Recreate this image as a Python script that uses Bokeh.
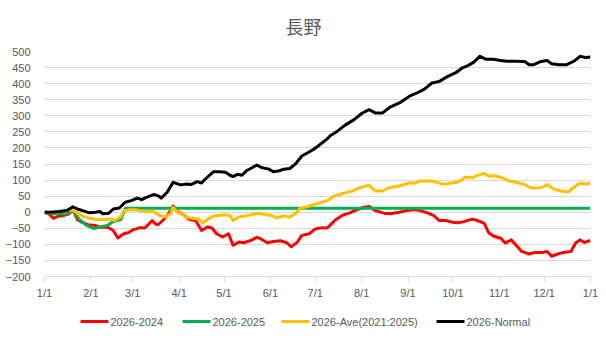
from bokeh.plotting import figure
from bokeh.layouts import column
from bokeh.models import FixedTicker
from bokeh.core.properties import value
from bokeh.embed import file_html
from bokeh.resources import INLINE

title_text = "長野"
series_names = ["2026-2024", "2026-2025", "2026-Ave(2021:2025)", "2026-Normal"]
series_colors = ["#FF0000", "#00B050", "#FFC000", "#000000"]

# x positions are day offsets from 2026-01-01
month_ticks = [0, 31, 59, 90, 120, 151, 181, 212, 243, 273, 304, 334, 365]
month_labels = ["1/1", "2/1", "3/1", "4/1", "5/1", "6/1", "7/1", "8/1",
                "9/1", "10/1", "11/1", "12/1", "1/1"]
y_ticks = list(range(-200, 501, 50))

red_days = [0, 3, 6, 9, 13, 16, 19, 22, 25, 29, 34, 37, 42, 46, 49, 53, 56, 59, 64, 67,
            72, 74, 76, 80, 83, 86, 89, 92, 95, 97, 101, 105, 109, 112, 115, 119, 123, 126,
            130, 133, 138, 142, 145, 149, 153, 158, 162, 165, 169, 172, 177, 181, 186, 189,
            194, 199, 204, 209, 213, 217, 221, 227, 231, 237, 242, 247, 251, 256, 260, 264,
            268, 273, 276, 280, 284, 286, 289, 294, 297, 300, 305, 308, 312, 315, 319, 324,
            328, 333, 336, 339, 343, 347, 352, 355, 358, 361, 365]
red_vals = [0, -5, -19, -13, -10, -6, 7, -23, -31, -39, -41, -47, -46, -57, -80, -67, -64, -55, -48, -49,
            -26, -36, -39, -21, -5, 19, 2, -5, -15, -23, -26, -57, -46, -49, -67, -77, -67, -103,
            -93, -95, -88, -78, -84, -95, -91, -89, -95, -108, -93, -72, -67, -52, -48, -49,
            -26, -10, -2, 8, 15, 18, 5, -3, -5, 0, 5, 8, 5, -2, -10, -26,
            -26, -31, -33, -30, -24, -22, -25, -35, -64, -74, -81, -96, -86, -101, -122, -130,
            -125, -125, -122, -137, -130, -125, -122, -96, -86, -94, -88]

green_days = [0, 6, 10, 15, 19, 23, 28, 33, 37, 42, 46, 51, 54, 365]
green_vals = [0, -5, -5, -5, 7, -21, -41, -51, -46, -41, -29, -23, 12, 12]

ave_days = [0, 6, 10, 15, 19, 22, 26, 30, 35, 39, 44, 47, 51, 53, 57, 61, 64, 68, 73, 77,
            81, 84, 86, 89, 92, 95, 98, 103, 106, 110, 113, 116, 121, 124, 126, 130, 134, 139,
            143, 148, 152, 155, 160, 164, 168, 171, 176, 180, 184, 189, 194, 200, 206, 211,
            217, 221, 226, 231, 238, 244, 247, 251, 258, 263, 266, 271, 276, 279, 281, 286,
            289, 294, 297, 300, 306, 310, 315, 321, 325, 329, 333, 336, 341, 345, 350, 354,
            358, 362, 365]
ave_vals = [0, 0, 2, 5, 7, -3, -13, -19, -23, -23, -21, -26, -15, 5, 8, 8, 5, 2, 2, -10,
            -15, -5, 15, 0, -5, -15, -19, -21, -33, -19, -12, -10, -8, -10, -26, -15, -12, -7,
            -3, -8, -10, -18, -12, -15, -3, 12, 18, 23, 29, 36, 51, 59, 66, 77,
            84, 66, 66, 77, 82, 92, 90, 97, 97, 92, 87, 90, 94, 100, 109, 107,
            114, 121, 112, 114, 107, 98, 93, 86, 76, 75, 78, 86, 71, 66, 63, 78,
            90, 88, 90]

normal_days = [0, 4, 10, 15, 19, 22, 26, 30, 34, 37, 39, 43, 46, 50, 54, 58, 62, 65, 68, 73,
               76, 78, 82, 86, 89, 91, 95, 98, 102, 105, 107, 111, 113, 117, 121, 124, 126, 129,
               132, 135, 139, 142, 145, 150, 153, 157, 160, 164, 168, 172, 176, 180, 184, 189,
               191, 196, 201, 207, 212, 217, 221, 226, 231, 238, 244, 249, 254, 259, 264, 269,
               275, 279, 283, 287, 291, 295, 300, 305, 309, 314, 321, 324, 327, 332, 336, 339,
               344, 349, 354, 358, 362, 365]
normal_vals = [0, 0, 2, 5, 17, 10, 4, -2, 0, 2, -5, -3, 10, 13, 31, 36, 44, 39, 46, 55,
               51, 44, 62, 93, 88, 85, 88, 86, 95, 91, 101, 118, 126, 126, 124, 115, 111, 118,
               115, 129, 139, 147, 139, 134, 126, 129, 134, 136, 151, 175, 185, 196, 210, 228,
               238, 253, 271, 288, 307, 319, 309, 309, 327, 342, 361, 371, 383, 402, 407, 421,
               434, 448, 456, 467, 485, 476, 476, 472, 470, 470, 469, 459, 459, 469, 472, 462,
               459, 459, 470, 485, 481, 483]

series = [(red_days, red_vals), (green_days, green_vals),
          (ave_days, ave_vals), (normal_days, normal_vals)]

TXT = "#595959"
GRID = "#D9D9D9"
FONT = "Liberation Sans"

W = 606
BORDER_L, BORDER_R = 44, 16          # main frame spans x = 44 .. 590 on the page
TITLE_H, LEG_H = 40, 40

# ---------------- title strip ----------------
# the column aligns frames, so this strip's frame spans the same x as the main frame;
# its x range is set to page pixels across that span.
ttl = figure(width=W, height=TITLE_H, x_range=(BORDER_L, W - BORDER_R), y_range=(0, TITLE_H),
             output_backend="svg", toolbar_location=None,
             x_axis_type=None, y_axis_type=None, min_border=0)
ttl.grid.visible = False
ttl.outline_line_color = None
ttl.border_fill_color = "white"
ttl.text(x=[W / 2], y=[TITLE_H - 25], text=[title_text],
         text_font=value("Noto Sans CJK JP"), text_font_size="18px", text_color=TXT,
         text_align="center", text_baseline="middle")

# ---------------- main chart ----------------
p = figure(width=W, height=341 - TITLE_H - LEG_H, x_range=(0, 365), y_range=(-200, 500),
           output_backend="svg", toolbar_location=None,
           min_border_left=BORDER_L, min_border_right=BORDER_R,
           min_border_top=51 - TITLE_H, min_border_bottom=23)

p.outline_line_color = None
p.background_fill_color = "white"
p.border_fill_color = "white"

p.xgrid.visible = False
p.ygrid.ticker = FixedTicker(ticks=y_ticks)
p.ygrid.grid_line_color = GRID
p.ygrid.grid_line_width = 1

p.yaxis.ticker = FixedTicker(ticks=y_ticks)
p.yaxis.axis_line_color = None
p.yaxis.major_tick_line_color = None
p.yaxis.minor_tick_line_color = None
p.yaxis.major_tick_out = 0
p.yaxis.major_tick_in = 0
p.yaxis.major_label_standoff = 14
p.yaxis.major_label_text_font = FONT
p.yaxis.major_label_text_font_size = "11px"
p.yaxis.major_label_text_color = TXT

p.xaxis.ticker = FixedTicker(ticks=month_ticks)
p.xaxis.major_label_overrides = {t: l for t, l in zip(month_ticks, month_labels)}
p.xaxis.axis_line_color = GRID
p.xaxis.major_tick_line_color = GRID
p.xaxis.minor_tick_line_color = None
p.xaxis.major_tick_out = 5
p.xaxis.major_tick_in = 0
p.xaxis.major_label_standoff = 5
p.xaxis.major_label_text_font = FONT
p.xaxis.major_label_text_font_size = "11px"
p.xaxis.major_label_text_color = TXT

for (xs, ys), col in zip(series, series_colors):
    p.line(xs, ys, line_color=col, line_width=3, line_join="round")

# ---------------- legend strip ----------------
leg = figure(width=W, height=LEG_H, x_range=(BORDER_L, W - BORDER_R), y_range=(0, LEG_H),
             output_backend="svg", toolbar_location=None,
             x_axis_type=None, y_axis_type=None, min_border=0)
leg.grid.visible = False
leg.outline_line_color = None
leg.border_fill_color = "white"

legend_left = [80, 182, 281, 436]   # page x of each legend entry
swatch_len = 28
ymid = LEG_H / 2
leg.segment(x0=legend_left, x1=[x + swatch_len for x in legend_left],
            y0=[ymid] * 4, y1=[ymid] * 4, line_color=series_colors, line_width=3)
leg.text(x=[x + swatch_len + 2 for x in legend_left], y=[ymid] * 4, text=series_names,
         text_font=value(FONT), text_font_size="11px", text_color=TXT,
         text_align="left", text_baseline="middle")

layout = column(ttl, p, leg, spacing=0)

open("out.html", "w").write(file_html(layout, INLINE))
